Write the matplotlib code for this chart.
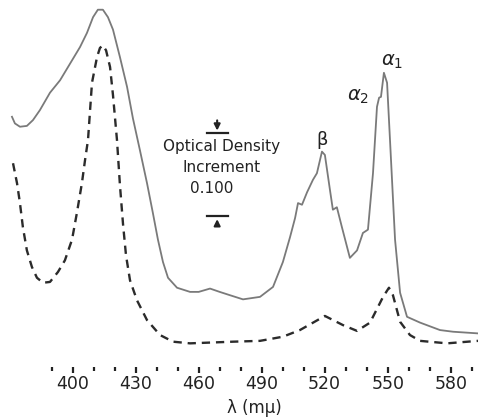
import matplotlib.pyplot as plt
from matplotlib.ticker import FixedLocator

# solid curve, wavelength in m\u03bc and optical density
wl_solid = [371.1, 372.5, 374.9, 378.2, 381.1, 384.4, 389.2, 394.0, 399.7, 403.5, 406.8,
            409.7, 412.0, 414.4, 416.8, 419.2, 422.5, 425.9, 428.7, 432.0, 435.4, 438.2,
            440.6, 443.0, 445.4, 449.7, 455.9, 460.0, 465.4, 470.0, 474.9, 481.1,
            489.2, 495.4, 500.1, 503.5, 505.9, 507.3, 509.2, 511.6, 514.4, 516.3, 518.7,
            520.1, 522.5, 523.9, 525.8, 528.2, 532.0, 535.4, 538.2, 540.6, 543.0, 544.9,
            545.9, 546.8, 548.2, 549.7, 551.1, 553.5, 555.9, 559.2, 565.4, 574.9, 581.1, 593.0]
od_solid = [0.275, 0.267, 0.263, 0.264, 0.271, 0.283, 0.304, 0.319, 0.343, 0.359, 0.376,
            0.395, 0.404, 0.404, 0.395, 0.380, 0.347, 0.311, 0.273, 0.235, 0.195, 0.159,
            0.127, 0.100, 0.081, 0.069, 0.064, 0.064, 0.068, 0.064, 0.060, 0.055,
            0.058, 0.070, 0.100, 0.130, 0.153, 0.171, 0.169, 0.184, 0.199, 0.207, 0.233,
            0.229, 0.187, 0.163, 0.166, 0.142, 0.105, 0.114, 0.135, 0.139, 0.207, 0.287,
            0.298, 0.299, 0.328, 0.316, 0.247, 0.127, 0.063, 0.034, 0.027, 0.018, 0.016, 0.014]

# dashed curve
wl_dash = [371.6, 373.5, 374.9, 376.3, 378.2, 380.6, 383.0, 385.9, 389.2, 393.0, 396.3,
           399.7, 402.0, 404.4, 405.9, 407.3, 409.2, 411.6, 413.0, 414.4, 415.9, 417.8,
           419.2, 421.1, 422.5, 424.0, 425.4, 427.3, 430.6, 435.4, 441.6, 447.8, 455.9,
           476.3, 489.2, 500.1, 508.2, 520.1, 528.7, 535.4, 541.6, 547.8, 550.6,
           552.5, 555.9, 560.6, 565.4, 578.3, 593.0]
od_dash = [0.219, 0.195, 0.171, 0.142, 0.114, 0.094, 0.081, 0.075, 0.076, 0.088, 0.102,
           0.127, 0.159, 0.195, 0.223, 0.247, 0.316, 0.347, 0.358, 0.361, 0.355, 0.335,
           0.301, 0.247, 0.193, 0.145, 0.108, 0.078, 0.054, 0.030, 0.012, 0.004, 0.002,
           0.004, 0.005, 0.010, 0.018, 0.035, 0.024, 0.017, 0.027, 0.058, 0.069,
           0.060, 0.028, 0.012, 0.005, 0.002, 0.005]

tick_major = [400, 430, 460, 490, 520, 550, 580]
tick_minor = list(range(390, 600, 10))

# optical density scale bar
scale_x = 468.8
scale_top = 0.255
increment = 0.100

fig = plt.figure(figsize=(4.78, 4.18), dpi=100)
ax = fig.add_axes([0, 51 / 418, 1, 367 / 418])

ax.plot(wl_solid, od_solid, color='#7a7a7a', lw=1.3)
ax.plot(wl_dash, od_dash, color='#2b2b2b', lw=1.7, dashes=(3.5, 2.5))

ax.set_xlim(365.4, 593.0)
ax.set_ylim(-0.0265, 0.4157)

for s in ax.spines.values():
    s.set_visible(False)
ax.set_yticks([])
ax.xaxis.set_major_locator(FixedLocator(tick_major))
ax.xaxis.set_minor_locator(FixedLocator(tick_minor))
ax.tick_params(axis='x', which='major', direction='out', length=4, width=1.6,
               color='#222222', labelsize=12.5, pad=2, labelcolor='#222222')
ax.tick_params(axis='x', which='minor', direction='out', length=3, width=1.6,
               color='#222222')
ax.set_xlabel('\u03bb (m\u03bc)', fontsize=12, color='#222222')
ax.xaxis.set_label_coords(0.533, -0.088)

# scale bar
bar_half = 5.0
bottom = scale_top - increment
ax.plot([scale_x - bar_half, scale_x + bar_half], [scale_top, scale_top], color='#222222', lw=1.6)
ax.plot([scale_x - bar_half, scale_x + bar_half], [bottom, bottom], color='#222222', lw=1.6)
ax.annotate('', xy=(scale_x, scale_top), xytext=(scale_x, scale_top + 0.019),
            arrowprops=dict(arrowstyle='-|>', color='#222222', lw=1.5, mutation_scale=9))
ax.annotate('', xy=(scale_x, bottom), xytext=(scale_x, bottom - 0.013),
            arrowprops=dict(arrowstyle='-|>', color='#222222', lw=1.5, mutation_scale=9))

ax.text(470.7, 0.2386, 'Optical Density', ha='center', va='center', fontsize=11, color='#222222')
ax.text(470.7, 0.2133, 'Increment', ha='center', va='center', fontsize=11, color='#222222')
ax.text(466.3, 0.188, '0.100', ha='center', va='center', fontsize=11, color='#222222')

# band labels
ax.text(518.7, 0.247, '\u03b2', ha='center', va='center', fontsize=13, color='#222222')
ax.text(535.9, 0.300, '$\\alpha_2$', ha='center', va='center', fontsize=14, color='#222222')
ax.text(552.1, 0.341, '$\\alpha_1$', ha='center', va='center', fontsize=14, color='#222222')

fig.savefig('out.png', dpi=100)
